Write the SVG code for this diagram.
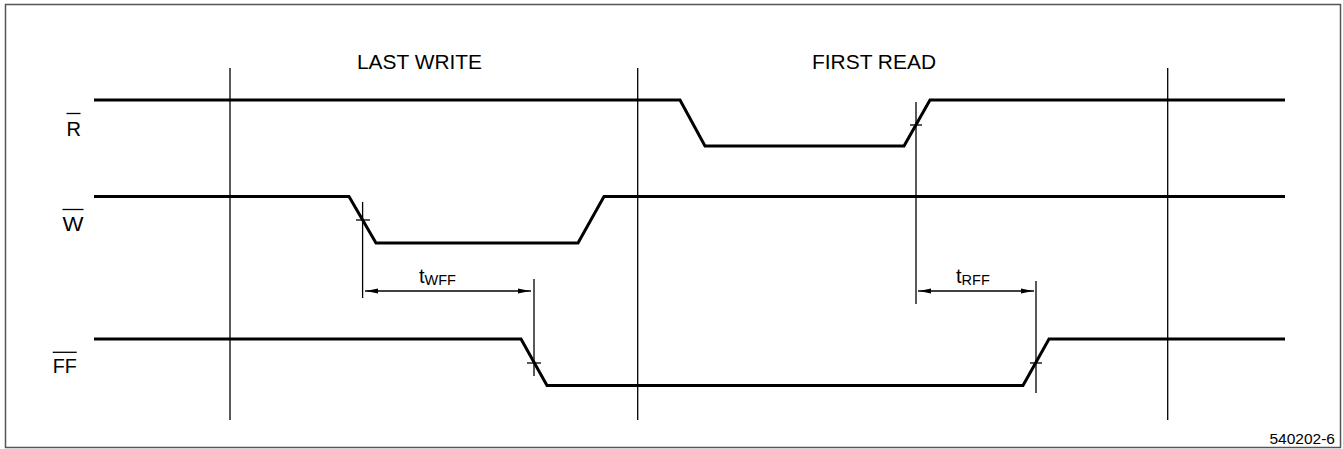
<svg xmlns="http://www.w3.org/2000/svg" width="1343" height="449" viewBox="0 0 1343 449">
<style>
.sig{fill:none;stroke:#000;stroke-width:3;stroke-linejoin:miter}
.thin{fill:none;stroke:#000;stroke-width:1.3}
.lbl{font-family:"Liberation Sans",Arial,sans-serif;fill:#000}
.ah{fill:#000;stroke:none}
</style>
<rect x="0" y="0" width="1343" height="449" fill="#fff"/>
<rect x="5.5" y="4.5" width="1335" height="443" fill="none" stroke="#555" stroke-width="1.5"/>
<g id="headers">
<text class="lbl" x="357" y="69" font-size="20" textLength="125" lengthAdjust="spacingAndGlyphs">LAST WRITE</text>
<text class="lbl" x="812" y="69" font-size="20" textLength="124" lengthAdjust="spacingAndGlyphs">FIRST READ</text>
</g>
<g id="markers">
<line class="thin" x1="230" y1="68" x2="230" y2="420"/>
<line class="thin" x1="637.7" y1="68" x2="637.7" y2="420"/>
<line class="thin" x1="1167.7" y1="68" x2="1167.7" y2="420"/>
</g>
<g id="sig-R">
<text class="lbl" x="66.5" y="135.5" font-size="20" textLength="14.5" lengthAdjust="spacingAndGlyphs">R</text>
<line class="thin" x1="66.5" y1="113.5" x2="80.5" y2="113.5"/>
<polyline class="sig" points="94,100 680,100 705,146 904,146 930,100 1285,100"/>
</g>
<g id="sig-W">
<text class="lbl" x="62.5" y="231" font-size="20" textLength="21" lengthAdjust="spacingAndGlyphs">W</text>
<line class="thin" x1="62.5" y1="209.5" x2="83.5" y2="209.5"/>
<polyline class="sig" points="94,196.5 349,196.5 376,243 578,243 604,196.5 1285,196.5"/>
</g>
<g id="sig-FF">
<text class="lbl" x="52.7" y="372.7" font-size="20" textLength="24" lengthAdjust="spacingAndGlyphs">FF</text>
<line class="thin" x1="52.7" y1="352.3" x2="76.7" y2="352.3"/>
<polyline class="sig" points="94,339 521,339 547,385.5 1023,385.5 1049,339 1285,339"/>
</g>
<g id="connectors">
<line class="thin" x1="362.6" y1="202" x2="362.6" y2="298"/>
<line class="thin" x1="356" y1="220" x2="370" y2="220"/>
<line class="thin" x1="534" y1="279" x2="534" y2="376"/>
<line class="thin" x1="527" y1="363" x2="541" y2="363"/>
<line class="thin" x1="365" y1="291" x2="531" y2="291"/>
<polygon class="ah" points="366,291 378,288.5 378,293.5"/>
<polygon class="ah" points="530,291 518,288.5 518,293.5"/>
<line class="thin" x1="916" y1="102" x2="916" y2="304"/>
<line class="thin" x1="910" y1="125" x2="922" y2="125"/>
<line class="thin" x1="1036" y1="281" x2="1036" y2="393"/>
<line class="thin" x1="1030" y1="363" x2="1042" y2="363"/>
<line class="thin" x1="918" y1="291" x2="1034" y2="291"/>
<polygon class="ah" points="919,291 931,288.5 931,293.5"/>
<polygon class="ah" points="1033,291 1021,288.5 1021,293.5"/>
</g>
<g id="timing-labels">
<text class="lbl" x="419" y="283" font-size="20">t<tspan font-size="14.5" dy="2">WFF</tspan></text>
<text class="lbl" x="956" y="283" font-size="20">t<tspan font-size="14.5" dy="2">RFF</tspan></text>
</g>
<text class="lbl" x="1335" y="444" font-size="15.5" text-anchor="end">540202-6</text>
</svg>
